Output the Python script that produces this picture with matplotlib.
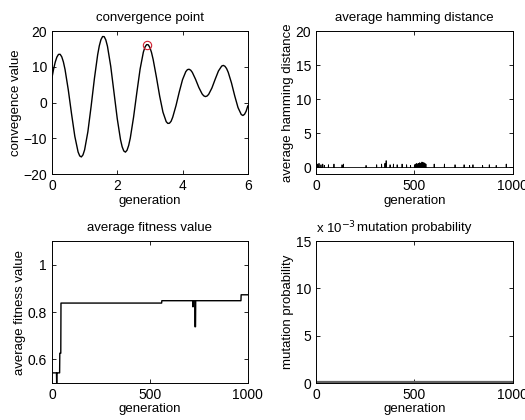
import numpy as np
import matplotlib
matplotlib.use("Agg")
import matplotlib.pyplot as plt

plt.rcParams["font.family"] = ["Liberation Sans", "DejaVu Sans"]
plt.rcParams["font.size"] = 9.5

# convergence curve (extra points around the extremes)
conv_x = [0.0, 0.05, 0.1, 0.15, 0.2, 0.25, 0.3, 0.35, 0.4, 0.5,
          0.6, 0.7, 0.8, 0.85, 0.9, 0.95, 1.0, 1.1, 1.2, 1.3,
          1.4, 1.45, 1.5, 1.55, 1.6, 1.65, 1.7, 1.8, 1.9, 2.0,
          2.1, 2.15, 2.2, 2.25, 2.3, 2.35, 2.4, 2.5, 2.6, 2.7,
          2.8, 2.85, 2.9, 2.95, 3.0, 3.05, 3.1, 3.2, 3.3, 3.4,
          3.5, 3.55, 3.6, 3.65, 3.7, 3.8, 3.9, 4.0, 4.1, 4.15,
          4.2, 4.25, 4.3, 4.4, 4.5, 4.6, 4.65, 4.7, 4.75, 4.8,
          4.9, 5.0, 5.1, 5.2, 5.25, 5.3, 5.35, 5.4, 5.5, 5.6,
          5.7, 5.8, 5.85, 5.9, 5.95, 6.0]
conv_y = [7.00, 9.39, 11.34, 12.74, 13.49, 13.52, 12.81, 11.38, 9.29, 3.57,
          -3.15, -9.40, -13.76, -14.87, -15.15, -14.58, -13.16, -8.11, -0.98, 6.73,
          13.40, 15.88, 17.60, 18.47, 18.45, 17.52, 15.77, 10.18, 2.87, -4.46,
          -10.33, -12.30, -13.48, -13.81, -13.28, -11.93, -9.86, -4.04, 2.82, 9.38,
          14.13, 15.54, 16.23, 16.17, 15.41, 14.01, 12.07, 7.13, 1.82, -2.63,
          -5.30, -5.79, -5.73, -5.19, -4.04, -0.82, 2.99, 6.43, 8.67, 9.23,
          9.34, 9.08, 8.47, 6.52, 4.25, 2.45, 1.92, 1.71, 1.85, 2.32,
          4.10, 6.53, 8.84, 10.23, 10.41, 10.17, 9.53, 8.49, 5.51, 1.88,
          -1.36, -3.31, -3.57, -3.24, -2.36, -0.91]
best_x = 2.9
best_y = 16.23

n_gen = 1000
generations = np.arange(1, n_gen + 1)

# hamming distance: zero except for these generations
ham_gen = [1, 8, 15, 25, 34, 42, 63, 91, 132, 139, 254, 308, 333, 350, 356,
           376, 393, 412, 437, 460, 480, 500, 505, 512, 518, 522, 527, 533,
           538, 543, 548, 553, 558, 600, 652, 706, 752, 780, 797, 846, 880,
           915, 966]
ham_val = [17.3, 0.5, 0.6, 0.4, 0.5, 0.3, 0.4, 0.5, 0.4, 0.5, 0.3, 0.4, 0.5,
           0.6, 1.0, 0.4, 0.5, 0.4, 0.5, 0.4, 0.3, 0.4, 0.5, 0.6, 0.5, 0.6,
           0.7, 0.6, 0.8, 0.7, 0.7, 0.6, 0.5, 0.5, 0.5, 0.4, 0.4, 0.3, 0.4,
           0.3, 0.4, 0.3, 0.5]

# average fitness: level holds from each start generation
fit_start = [1, 24, 25, 40, 46, 561, 720, 721, 730, 734, 966]
fit_level = [0.543, 0.50, 0.543, 0.626, 0.838, 0.848, 0.822, 0.848, 0.738,
             0.848, 0.873]

mut_level = 0.0001

hamming = np.zeros(n_gen)
hamming[np.array(ham_gen) - 1] = ham_val

idx = np.searchsorted(fit_start, generations, side="right") - 1
fitness = np.array(fit_level)[idx]

mutation = np.full(n_gen, mut_level)


def style(ax):
    ax.tick_params(direction="in", length=3, top=True, right=True, width=0.6,
                   labelsize=10)
    for s in ax.spines.values():
        s.set_linewidth(0.7)


fig = plt.figure(figsize=(5.25, 4.2), dpi=100)

ax1 = fig.add_axes([0.099, 0.585, 0.373, 0.341])
ax1.plot(conv_x, conv_y, color="black", lw=1)
ax1.plot(best_x, best_y, "o", mfc="none", mec="#d02030", ms=6, mew=0.8)
ax1.set_xlim(0, 6)
ax1.set_ylim(-20, 20)
ax1.set_xticks([0, 2, 4, 6])
ax1.set_yticks([-20, -10, 0, 10, 20])
ax1.set_title("convergence point", fontsize=9.5, pad=7)
ax1.set_xlabel("generation", labelpad=1)
ax1.set_ylabel("convegence value", labelpad=1)
style(ax1)

ax2 = fig.add_axes([0.602, 0.585, 0.375, 0.341])
ax2.plot(generations, hamming, color="black", lw=0.6)
ax2.set_xlim(0, 1000)
ax2.set_ylim(-1, 20)
ax2.set_xticks([0, 500, 1000])
ax2.set_yticks([0, 5, 10, 15, 20])
ax2.set_title("average hamming distance", fontsize=9.5, pad=7)
ax2.set_xlabel("generation", labelpad=1)
ax2.set_ylabel("average hamming distance", labelpad=1)
style(ax2)

ax3 = fig.add_axes([0.099, 0.088, 0.373, 0.338])
ax3.plot(generations, fitness, color="black", lw=1)
ax3.set_xlim(0, 1000)
ax3.set_ylim(0.5, 1.1)
ax3.set_xticks([0, 500, 1000])
ax3.set_yticks([0.6, 0.8, 1.0])
ax3.set_yticklabels(["0.6", "0.8", "1"])
ax3.set_title("average fitness value", fontsize=9.5, pad=7)
ax3.set_xlabel("generation", labelpad=1)
ax3.set_ylabel("average fitness value", labelpad=1)
style(ax3)

ax4 = fig.add_axes([0.602, 0.088, 0.375, 0.338])
ax4.plot(generations, mutation, color="#606060", lw=1.6)
ax4.set_xlim(0, 1000)
ax4.set_ylim(0, 0.015)
ax4.set_xticks([0, 500, 1000])
ax4.set_yticks([0, 0.005, 0.01, 0.015])
ax4.set_yticklabels(["0", "5", "10", "15"])
ax4.set_title("mutation probability", fontsize=9.5, pad=7)
ax4.text(0.0, 1.035, "x 10$^{-3}$", transform=ax4.transAxes,
         ha="left", va="bottom", fontsize=9.5)
ax4.set_xlabel("generation", labelpad=1)
ax4.set_ylabel("mutation probability", labelpad=1)
style(ax4)

fig.savefig("out.png", dpi=100)
